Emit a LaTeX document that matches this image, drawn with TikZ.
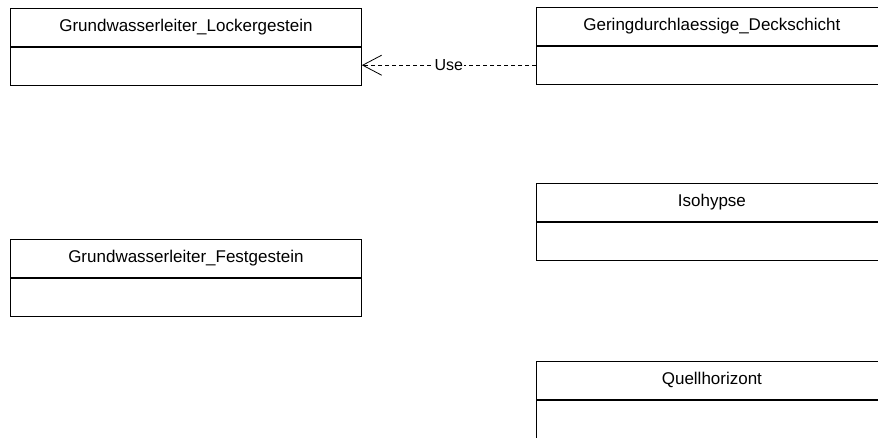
\documentclass[tikz,border=0pt]{standalone}
\usepackage{fontspec}
\setmainfont{Liberation Sans}
\usetikzlibrary{arrows.meta, positioning}
\tikzset{
    head/.style={draw, thick, rectangle, minimum width=351pt, minimum height=38pt, inner sep=0pt, anchor=north west, font=\fontsize{17}{20}\selectfont},
    body/.style={draw, thick, rectangle, minimum width=351pt, minimum height=38pt, inner sep=0pt, below=0pt of #1},
    use/.style={dashed, dash pattern=on 4pt off 3pt, thick, -{Straight Barb[length=19pt, width=20pt]}}
}

\begin{document}
\begin{tikzpicture}[x=1pt, y=1pt]
    \useasboundingbox (0,0) rectangle (878,-437);
    % Left column
    \node[head] (lock) at (10,-8) {Grundwasserleiter\_Lockergestein};
    \node[body=lock] (lockbody) {};
    \node[head] (fest) at (10,-239) {Grundwasserleiter\_Festgestein};
    \node[body=fest] (festbody) {};
    % Right column
    \node[head] (deck) at (536,-7) {Geringdurchlaessige\_Deckschicht};
    \node[body=deck] (deckbody) {};
    \node[head] (iso) at (536,-183) {Isohypse};
    \node[body=iso] (isobody) {};
    \node[head] (quell) at (536,-361) {Quellhorizont};
    \node[body=quell] (quellbody) {};
    % Dependency
    \draw[use] (deckbody.west) -- node[fill=white, inner sep=1pt, font=\fontsize{16}{19}\selectfont] {Use} (lockbody.east |- deckbody.west);
\end{tikzpicture}
\end{document}
